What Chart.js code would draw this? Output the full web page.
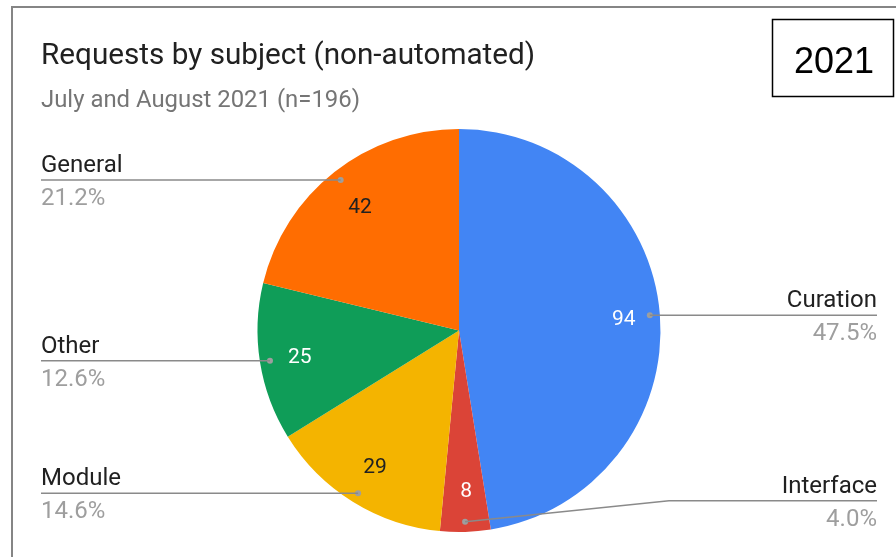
<!DOCTYPE html>
<html lang="en">
<head>
    <meta charset="UTF-8">
    <title>Requests by subject (non-automated)</title>
    <script src="https://cdn.jsdelivr.net/npm/chart.js"></script>
    <style>
        html, body { margin: 0; padding: 0; background: #fff; }
        #wrap { position: relative; width: 896px; height: 557px; }
    </style>
</head>
<body>
<div id="wrap"><canvas id="pieChart" width="896" height="557"></canvas></div>
<script>
    const subjects = ["Curation", "Interface", "Module", "Other", "General"];
    const requests = [94, 8, 29, 25, 42];
    const percents = ["47.5%", "4.0%", "14.6%", "12.6%", "21.2%"];
    const sliceColors = ["#4285F4", "#DB4437", "#F4B400", "#0F9D58", "#FF6D01"];
    const valueColors = ["#ffffff", "#ffffff", "#212121", "#ffffff", "#212121"];

    const FONT = "Roboto, 'Noto Sans', Arial, sans-serif";

    // frame, title, subtitle, year box
    const chrome = {
        id: "chrome",
        beforeDraw(chart) {
            const c = chart.ctx;
            c.save();
            c.fillStyle = "#fff";
            c.fillRect(0, 0, chart.width, chart.height);
            c.strokeStyle = "#858585";
            c.lineWidth = 2;
            c.strokeRect(12, 7, 1000, 700);

            c.fillStyle = "#212121";
            c.font = "29.7px " + FONT;
            c.textBaseline = "alphabetic";
            c.fillText("Requests by subject (non-automated)", 41, 64);
            c.fillStyle = "#757575";
            c.font = "23.9px " + FONT;
            c.fillText("July and August 2021 (n=196)", 41, 107);

            c.strokeStyle = "#000";
            c.lineWidth = 1.5;
            c.strokeRect(772.5, 19.5, 121, 77);
            c.fillStyle = "#000";
            c.font = "36px 'Liberation Sans', Arial, sans-serif";
            c.textAlign = "center";
            c.fillText("2021", 834, 73);
            c.restore();
        }
    };

    // value labels inside slices + leader lines with name / percent
    const sliceLabels = {
        id: "sliceLabels",
        afterDatasetsDraw(chart, args, opts) {
            const c = chart.ctx;
            const arcs = chart.getDatasetMeta(0).data;
            c.save();
            arcs.forEach((arc, i) => {
                const p = arc.getProps(["x", "y", "startAngle", "endAngle", "outerRadius"], true);
                const mid = (p.startAngle + p.endAngle) / 2;
                const r = p.outerRadius;
                // value text
                const vx = p.x + Math.cos(mid) * r * 0.81;
                const vy = p.y + Math.sin(mid) * r * 0.79;
                c.font = "21px " + FONT;
                c.fillStyle = valueColors[i];
                c.textAlign = "center";
                c.textBaseline = "middle";
                c.fillText(String(requests[i]), vx + 2, vy + 2);

                // leader dot
                const dx = p.x + Math.cos(mid) * r * 0.95;
                const dy = p.y + Math.sin(mid) * r * 0.95;
                const right = Math.cos(mid) > -0.05;
                const endX = right ? opts.rightX : opts.leftX;
                const bend = opts.bends[subjects[i]];
                const lineY = bend ? dy - bend.up : dy;

                c.fillStyle = "#9e9e9e";
                c.beginPath();
                c.arc(dx, dy, 3, 0, Math.PI * 2);
                c.fill();
                c.strokeStyle = "#8a8a8a";
                c.lineWidth = 1.5;
                c.beginPath();
                c.moveTo(dx, dy);
                if (bend) c.lineTo(bend.x, lineY);
                c.lineTo(endX, lineY);
                c.stroke();

                c.textAlign = right ? "right" : "left";
                c.textBaseline = "alphabetic";
                c.font = "24px " + FONT;
                c.fillStyle = "#212121";
                c.fillText(subjects[i], endX, lineY - 8);
                c.fillStyle = "#9e9e9e";
                c.fillText(percents[i], endX, lineY + 25);
            });
            c.restore();
        }
    };

    new Chart(document.getElementById("pieChart"), {
        type: "pie",
        data: {
            labels: subjects,
            datasets: [{
                data: requests,
                backgroundColor: sliceColors,
                borderWidth: 0
            }]
        },
        options: {
            responsive: false,
            animation: false,
            layout: { padding: { top: 129, bottom: 25, left: 257, right: 235 } },
            plugins: {
                legend: { display: false },
                tooltip: { enabled: false },
                sliceLabels: {
                    leftX: 41,
                    rightX: 877,
                    bends: { Interface: { x: 669, up: 21 } }
                }
            }
        },
        plugins: [chrome, sliceLabels]
    });
</script>
</body>
</html>
